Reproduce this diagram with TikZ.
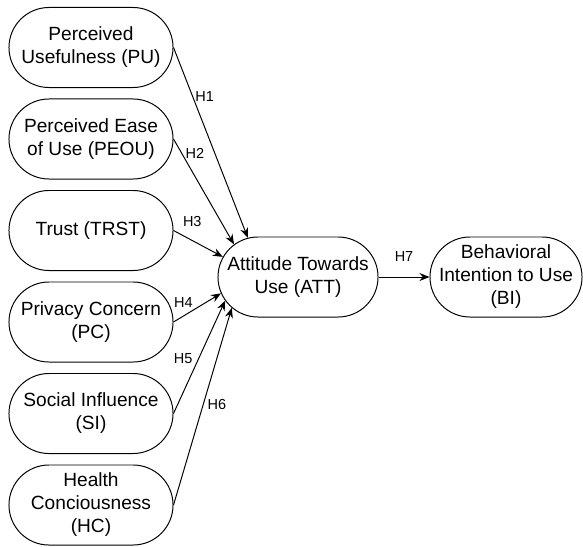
\documentclass[tikz,border=0pt]{standalone}
\usepackage{fontspec}
\setmainfont{Liberation Sans}
\usetikzlibrary{shapes.misc,arrows.meta,positioning}

\newcommand{\constructtext}[1]{\makebox[0pt]{\begin{tabular}{@{}c@{}}#1\end{tabular}}}

\begin{document}
\begin{tikzpicture}[x=0.025cm, y=-0.025cm,
	construct/.style={draw, rounded rectangle, line width=0.7pt, minimum width=4.1cm, minimum height=2cm, inner sep=0pt, font=\fontsize{13.6}{16.4}\selectfont},
	hyp/.style={-{Stealth[length=0.25cm, width=0.2cm]}, line width=0.7pt},
	hlabel/.style={font=\fontsize{10.3}{12}\selectfont, inner sep=0.05cm}]

		\useasboundingbox (0,0) rectangle (583,546);

		% Constructs
		\node[construct] (pu) at (91,47.5) {\constructtext{Perceived\\Usefulness (PU)}};
		\node[construct] (peou) at (91,139) {\constructtext{Perceived Ease\\of Use (PEOU)}};
		\node[construct] (trst) at (91,230.5) {\constructtext{Trust (TRST)}};
		\node[construct] (pc) at (91,322) {\constructtext{Privacy Concern\\(PC)}};
		\node[construct] (si) at (91,413.5) {\constructtext{Social Influence\\(SI)}};
		\node[construct] (hc) at (91,505) {\constructtext{Health\\Conciousness\\(HC)}};

		\node[construct, minimum width=4cm] (att) at (298,277) {\constructtext{Attitude Towards\\Use (ATT)}};
		\node[construct, minimum width=3.8cm] (bi) at (506,277) {\constructtext{Behavioral\\Intention to Use\\(BI)}};

		% Hypotheses
		\draw[hyp] (pu.east) -- (att.142) node[hlabel, pos=0.26, right=0cm] {H1};
		\draw[hyp] (peou.east) -- (att.153) node[hlabel, pos=0.14, right=0.03cm] {H2};
		\draw[hyp] (trst.east) -- (att.165) node[hlabel, pos=0.38, above=0.28cm] {H3};
		\draw[hyp] (pc.east) -- (att.192) node[hlabel, pos=0.21, above=0.15cm] {H4};
		\draw[hyp] (si.east) -- (att.198) node[hlabel, pos=0.49, left=0.1cm] {H5};
		\draw[hyp] (hc.east) -- (att.205) node[hlabel, pos=0.51, right=0.05cm] {H6};
		\draw[hyp] (att.east) -- (bi.west) node[hlabel, midway, above=0.32cm] {H7};

	\end{tikzpicture}
\end{document}
